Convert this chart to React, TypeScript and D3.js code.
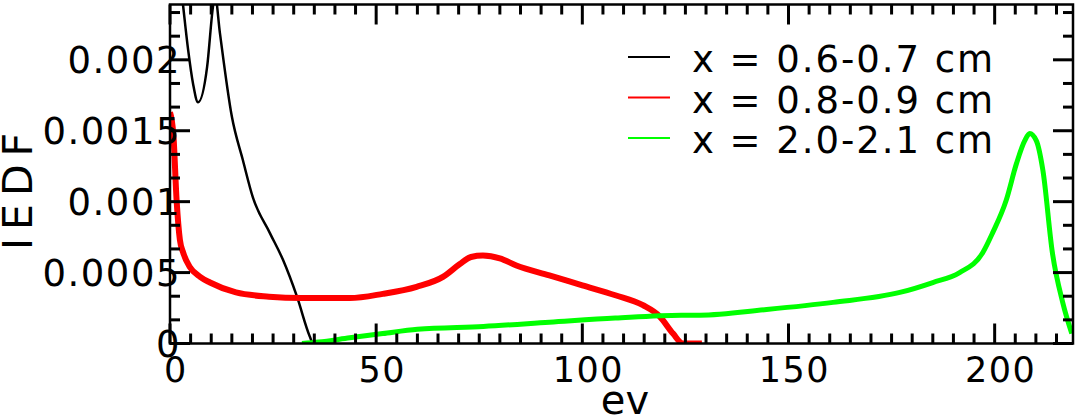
import React from 'react';
import * as d3 from 'd3';

// energy (eV) / IEDF readings for each slab
const blackEv = [0, 2, 3.15, 4.4, 5.6, 6.8, 9.0, 10.4, 10.9, 12.1, 15.0, 17.7, 20.1, 24.2, 27.4, 30.8, 33.9, 34.7, 40];
const blackVal = [0.0033, 0.0027, 0.00239, 0.00207, 0.00183, 0.0017, 0.00195, 0.00237, 0.00246, 0.00219, 0.0016, 0.00129, 0.00103, 0.00078, 0.00059, 0.00033, 0.00005, 0, 0];

const redEv = [0, 0.4, 0.8, 1.6, 2.4, 3.2, 4.8, 7.3, 9.7, 16, 24, 32, 43.6, 51.6, 59.8, 66.2, 70.3, 73, 75.9, 80, 84, 92, 100, 108, 114.7, 118.8, 122, 124.4, 129];
const redVal = [0.00163, 0.00158, 0.00148, 0.00101, 0.00073, 0.00064, 0.00054, 0.00047, 0.00043, 0.00036, 0.00033, 0.00032, 0.00032, 0.00035, 0.0004, 0.00047, 0.00056, 0.00061, 0.00062, 0.0006, 0.00055, 0.00048, 0.00041, 0.00034, 0.00027, 0.00019, 0.00007, 0, 0];

const greenEv = [32, 36, 43.6, 51.6, 60, 76, 92, 108, 124, 128.5, 144.7, 160.8, 177, 185, 191.5, 197.1, 199.5, 202.8, 205.3, 207.3, 208.5, 210.1, 211.7, 214, 216.5, 218.7];
const greenVal = [0, 0.00001, 0.00004, 0.00007, 0.0001, 0.00012, 0.00015, 0.00018, 0.0002, 0.0002, 0.00024, 0.00029, 0.00036, 0.00043, 0.0005, 0.00064, 0.00078, 0.00101, 0.00127, 0.00143, 0.00148, 0.00143, 0.00122, 0.00064, 0.00029, 0.00007];

const legendLabels = ['x = 0.6-0.7 cm', 'x = 0.8-0.9 cm', 'x = 2.0-2.1 cm'];
const xTickLabels = ['0', '50', '100', '150', '200'];
const yTickLabels = ['0', '0.0005', '0.001', '0.0015', '0.002'];

const W = 1079;
const H = 419;
const left = 170, right = 1073, top = 4.5, bottom = 343.5;
const font = '"DejaVu Sans", sans-serif';

const series = [
  { ev: blackEv, val: blackVal, color: '#000000', width: 2.5 },
  { ev: redEv, val: redVal, color: '#ff0000', width: 6 },
  { ev: greenEv, val: greenVal, color: '#00ff00', width: 5 },
];

export default function App() {
  const x = d3.scaleLinear().domain([0, 219]).range([left, right]);
  const y = d3.scaleLinear().domain([0, 0.00239]).range([bottom, top]);

  const line = d3.line<[number, number]>()
    .x(d => x(d[0]))
    .y(d => y(d[1]))
    .curve(d3.curveMonotoneX);

  const xMinor = d3.range(0, 219, 5);
  const yMinor = d3.range(0, 15).map(k => k * 0.0005 / 3);

  return (
    <svg width={W} height={H} style={{ position: 'absolute', left: 0, top: 0 }} fontFamily={font}>
      <rect width={W} height={H} fill="#fff" />
      <defs>
        <clipPath id="plot">
          <rect x={left} y={top} width={right - left} height={bottom - top} />
        </clipPath>
      </defs>

      <g clipPath="url(#plot)">
        {series.map((s, i) => (
          <path key={i}
            d={line(s.ev.map((e, j) => [e, s.val[j]] as [number, number])) || ''}
            fill="none" stroke={s.color} strokeWidth={s.width} strokeLinejoin="round" />
        ))}
      </g>

      {/* frame */}
      <rect x={left} y={top} width={right - left} height={bottom - top} fill="none" stroke="#000" strokeWidth={2.5} />

      {/* x ticks, bottom and top */}
      {xMinor.map(v => {
        const len = v % 50 === 0 ? 20 : 10;
        return (
          <g key={'x' + v} stroke="#000" strokeWidth={3}>
            <line x1={x(v)} x2={x(v)} y1={bottom} y2={bottom - len} />
            <line x1={x(v)} x2={x(v)} y1={top} y2={top + len} />
          </g>
        );
      })}

      {/* y ticks, left and right */}
      {yMinor.map((v, k) => {
        const len = k % 3 === 0 ? 20 : 10;
        return (
          <g key={'y' + k} stroke="#000" strokeWidth={3}>
            <line x1={left} x2={left + len} y1={y(v)} y2={y(v)} />
            <line x1={right} x2={right - len} y1={y(v)} y2={y(v)} />
          </g>
        );
      })}

      {xTickLabels.map((t, i) => (
        <text key={'xl' + t} x={x(i * 50) + 6} y={382} fontSize={35} letterSpacing={1.5}
          textAnchor="middle" fill="#000">{t}</text>
      ))}
      {yTickLabels.map((t, i) => (
        <text key={'yl' + t} x={181} y={y(i * 0.0005) + 13.5} fontSize={37} letterSpacing={1.5}
          textAnchor="end" fill="#000">{t}</text>
      ))}

      <text x={625} y={414} fontSize={40} textAnchor="middle" fill="#000">ev</text>
      <text transform="translate(32,191.5) rotate(-90)" fontSize={41} textAnchor="middle"
        textLength={117} lengthAdjust="spacing" fill="#000">IEDF</text>

      {/* legend */}
      {legendLabels.map((t, i) => (
        <g key={t}>
          <line x1={628} x2={670} y1={57 + i * 40.5} y2={57 + i * 40.5}
            stroke={series[i].color} strokeWidth={2} />
          <text x={692} y={72 + i * 40.5} fontSize={37} textLength={301} lengthAdjust="spacing"
            fill="#000">{t}</text>
        </g>
      ))}
    </svg>
  );
}
